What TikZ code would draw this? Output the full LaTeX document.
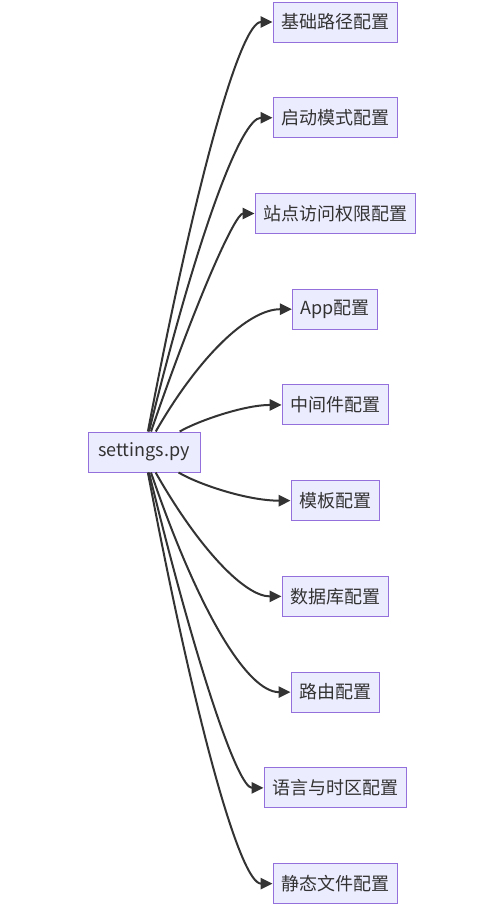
\documentclass[tikz,border=0pt]{standalone}
\usepackage{fontspec}
\setmainfont{Noto Sans CJK SC}
\usetikzlibrary{arrows.meta, positioning, calc}
\definecolor{boxfill}{HTML}{ECECFF}
\definecolor{boxline}{HTML}{9370DB}
\definecolor{edgecolor}{HTML}{333333}

\begin{document}
\begin{tikzpicture}[
    x=0.75pt, y=-0.75pt,
    box/.style={draw=boxline, fill=boxfill, line width=0.75pt,
                minimum height=30pt, inner xsep=6pt, inner ysep=0pt,
                text=edgecolor, font=\fontsize{13.5}{16}\selectfont},
    arrow/.style={-{Triangle[length=9pt, width=8.5pt]}, draw=edgecolor,
                  line width=1.5pt},
    node distance=41.05pt
  ]
  \useasboundingbox (0,0) rectangle (504,908);

  % Nodes
  \node[box, minimum width=84pt] (settings) at (144,452) {settings.py};

  \node[box] (base) at (335,22) {基础路径配置};
  \node[box, below=of base]       (startup)    {启动模式配置};
  \node[box, below=of startup]    (access)     {站点访问权限配置};
  \node[box, below=of access]     (app)        {App配置};
  \node[box, below=of app]        (middleware) {中间件配置};
  \node[box, below=of middleware] (tmpl)       {模板配置};
  \node[box, below=of tmpl]       (db)         {数据库配置};
  \node[box, below=of db]         (route)      {路由配置};
  \node[box, below=of route]      (lang)       {语言与时区配置};
  \node[box, below=of lang]       (static)     {静态文件配置};

  % Arrows: settings -> each part
  \foreach \t in {base, startup, access, app, middleware, tmpl, db, route, lang, static}
    \draw[arrow] (settings)
      .. controls ($(settings)!2/3!(\t.west -| 226,0)$)
             and ($(\t.west)!2/3!(\t.west -| 226,0)$) .. (\t.west);
\end{tikzpicture}
\end{document}
